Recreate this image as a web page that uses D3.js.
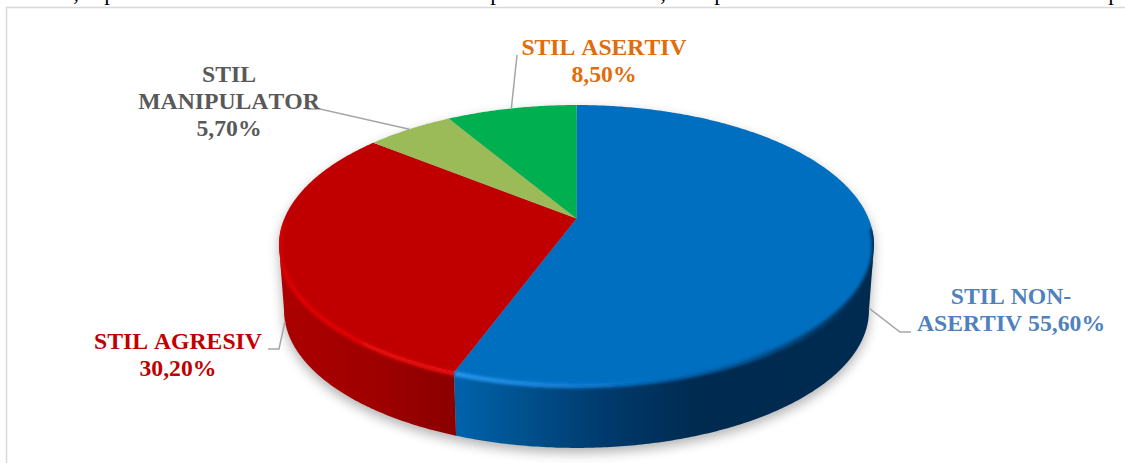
<!DOCTYPE html>
<html>
<head>
<meta charset="utf-8">
<script src="https://cdnjs.cloudflare.com/ajax/libs/d3/7.8.5/d3.min.js"></script>
<style>
    html, body { margin: 0; padding: 0; background: #fff; overflow: hidden; }
    text { font-family: "Liberation Serif", serif; font-kerning: none; }
</style>
</head>
<body>
<div id="chart"></div>
<script>
// values, clockwise from 12 o'clock
const categories = ['STIL NON-ASERTIV', 'STIL AGRESIV', 'STIL MANIPULATOR', 'STIL ASERTIV'];
const percents = [55.6, 30.2, 5.7, 8.5];
const labelLines = [
    ['STIL NON-', 'ASERTIV 55,60%'],
    ['STIL AGRESIV', '30,20%'],
    ['STIL', 'MANIPULATOR', '5,70%'],
    ['STIL ASERTIV', '8,50%']
];
// bits of the line of body text that hang into the crop
const croppedChars = [',', 'p', 'p', ',', 'p', 'p'];

const sliceColors = ['#006fc0', '#c00000', '#9bbb59', '#00b050'];
const labelColors = ['#4f81bd', '#c00000', '#595959', '#e36c0a'];

const width = 1125, height = 463;
const svg = d3.select('#chart').append('svg')
    .attr('width', width)
    .attr('height', height)
    .style('display', 'block');
const defs = svg.append('defs');

// pie is drawn in perspective: apex at (576.5,218.4), far edge squeezed
const persp = 0.19;
const wallDrop = 65.8, wallShrink = 0.983;
const x = d3.scaleLinear().domain([-1, 1]).range([576.5 - 292.1, 576.5 + 292.1]);
const y = d3.scaleLinear().domain([-1, 1]).range([218.4 + 134.9, 218.4 - 134.9]);

function rimPoint(angle, lower) {
    let u = Math.sin(angle), v = Math.cos(angle);
    let d = 1 + persp * v;
    if (lower) {
        return [x(0) + (x(u / d) - x(0)) * wallShrink,
            y(0) + (y(v / d) - y(0)) * wallShrink + wallDrop];
    }
    return [x(u / d), y(v / d)];
}
function rimPoints(a0, a1, lower) {
    let n = Math.max(2, Math.ceil(Math.abs(a1 - a0) / 0.01));
    return d3.range(n + 1).map(i => rimPoint(a0 + (a1 - a0) * i / n, lower));
}
const line = d3.line();

const pie = d3.pie().sort(null).value(d => d);
const slices = pie(percents);
const full = 2 * Math.PI;
const rad = d3.scaleLinear().domain([0, 360]).range([0, full]);

// gradients
function addGradient(id, stops) {
    let g = defs.append('linearGradient').attr('id', id)
        .attr('gradientUnits', 'userSpaceOnUse')
        .attr('x1', 279).attr('x2', 874).attr('y1', 0).attr('y2', 0);
    stops.forEach(s => {
        g.append('stop').attr('offset', (s[0] - 279) / 595).attr('stop-color', s[1]);
    });
}
addGradient('wall0', [[456, '#0062ac'], [520, '#00528f'], [600, '#003b6e'], [700, '#002a4f'], [874, '#002b50']]);
addGradient('wall1', [[280, '#ac0000'], [380, '#9e0000'], [456, '#8a0000']]);
addGradient('rim0', [[456, '#2a98f2'], [560, '#1582dc'], [640, '#0070c4'], [740, '#005ea6'], [820, '#003f74'], [874, '#00284b']]);
addGradient('rim1', [[280, '#d80000'], [300, '#e00000'], [456, '#ee1010']]);

defs.append('filter').attr('id', 'soft').attr('x', '-10%').attr('y', '-20%').attr('width', '120%').attr('height', '140%')
    .append('feGaussianBlur').attr('stdDeviation', 6);
defs.append('filter').attr('id', 'rimBlur').attr('filterUnits', 'userSpaceOnUse')
    .attr('x', 0).attr('y', 0).attr('width', width).attr('height', height)
    .append('feGaussianBlur').attr('stdDeviation', 1.6);

// frame and cropped text line
svg.append('path')
    .attr('d', 'M6.5,' + height + 'V7.5H' + width)
    .attr('fill', 'none')
    .attr('stroke', '#d9d9d9')
    .attr('stroke-width', 1.5);
const charPos = [76, 110, 496, 663, 720, 1114];
svg.selectAll('text.crop').data(croppedChars).enter().append('text')
    .attr('class', 'crop')
    .attr('x', (d, i) => charPos[i])
    .attr('y', 0)
    .attr('text-anchor', 'middle')
    .attr('font-size', 23)
    .attr('fill', '#000')
    .text(d => d);

// wall is only seen between the two points where the rim turns back
const turnRight = Math.acos(-persp), turnLeft = full - turnRight;

// outline of whole pie, for the shadow and for clipping the rim light
const outline = rimPoints(0, turnRight, false)
    .concat(rimPoints(turnRight, turnLeft, true))
    .concat(rimPoints(turnLeft, full, false));
svg.append('path')
    .attr('d', line(outline) + 'Z')
    .attr('transform', 'translate(0,5)')
    .attr('fill', '#000')
    .attr('opacity', 0.3)
    .attr('filter', 'url(#soft)');

// walls, only the two front slices show one
const walls = svg.append('g');
slices.forEach((s, i) => {
    let a0 = Math.max(s.startAngle, turnRight);
    let a1 = Math.min(s.endAngle, turnLeft);
    if (a1 <= a0) return;
    let pts = rimPoints(a0, a1, false).concat(rimPoints(a1, a0, true));
    walls.append('path')
        .attr('d', line(pts) + 'Z')
        .attr('fill', 'url(#wall' + i + ')');
});

// top face
const face = svg.append('g');
slices.forEach((s, i) => {
    let pts = [[x(0), y(0)]].concat(rimPoints(s.startAngle, s.endAngle, false));
    face.append('path')
        .attr('d', line(pts) + 'Z')
        .attr('fill', sliceColors[i]);
});

// bevel light along the front rim
defs.append('clipPath').attr('id', 'pieClip').append('path').attr('d', line(outline) + 'Z');
const rims = svg.append('g').attr('clip-path', 'url(#pieClip)');
const rimEnds = [[rad(94), slices[0].endAngle], [slices[1].startAngle, rad(268)]];
rimEnds.forEach((r, i) => {
    let pts = rimPoints(r[0], r[1], false).map(p => [p[0], p[1] + 1]);
    rims.append('path')
        .attr('d', line(pts))
        .attr('fill', 'none')
        .attr('stroke', 'url(#rim' + i + ')')
        .attr('stroke-width', 4.5)
        .attr('filter', 'url(#rimBlur)');
});

// leader lines, front slices leave from the lower edge
const elbows = [
    [[900, 332], [911, 332]],
    [[279, 349], [268, 349]],
    [[320, 109], [307, 109]],
    [[517, 55]]
];
slices.forEach((s, i) => {
    let mid = (s.startAngle + s.endAngle) / 2;
    let start = rimPoint(mid, i < 2);
    svg.append('path')
        .attr('d', line([start].concat(elbows[i])))
        .attr('fill', 'none')
        .attr('stroke', '#a6a6a6')
        .attr('stroke-width', 1.5);
});

// labels
const labelPos = [
    { x: 1011, y: 304 },
    { x: 178, y: 349 },
    { x: 229, y: 81.5 },
    { x: 604, y: 55 }
];
labelLines.forEach((lines, i) => {
    let t = svg.append('text')
        .attr('text-anchor', 'middle')
        .attr('font-size', 23.7)
        .attr('font-weight', 'bold')
        .attr('fill', labelColors[i]);
    lines.forEach((l, j) => {
        t.append('tspan')
            .attr('x', labelPos[i].x)
            .attr('y', labelPos[i].y + j * 27.2)
            .text(l);
    });
});
</script>
</body>
</html>
